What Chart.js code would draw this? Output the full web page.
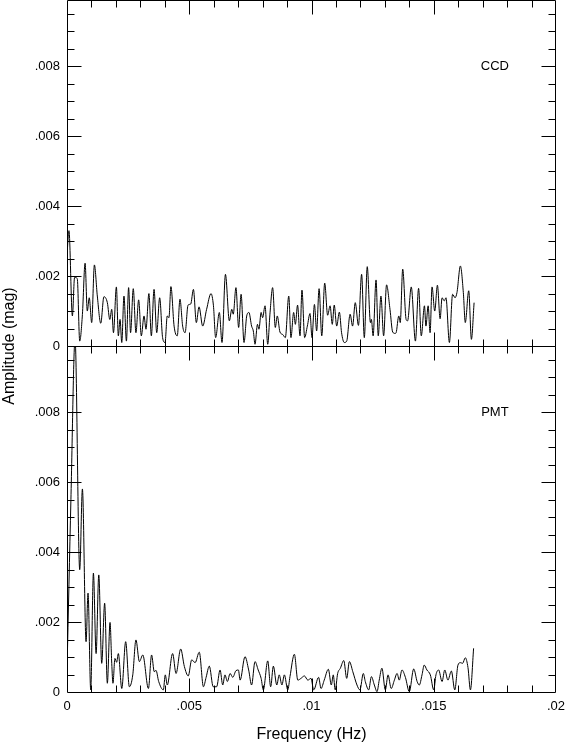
<!DOCTYPE html>
<html>
<head>
<meta charset="utf-8">
<script src="https://cdn.jsdelivr.net/npm/chart.js@4.4.1/dist/chart.umd.min.js"></script>
<style>
  html, body { margin: 0; padding: 0; background: #fff; }
  canvas { display: block; }
</style>
</head>
<body>
<canvas id="spectrum" width="565" height="745"></canvas>
<script>
// frequency in mHz, amplitude in mmag
const ccdFreq = [0, 0.08, 0.22, 0.31, 0.42, 0.52, 0.63, 0.74, 0.83, 0.91,
  1.01, 1.12, 1.24, 1.38, 1.51, 1.65, 1.75, 1.83, 1.90, 2.02,
  2.10, 2.17, 2.24, 2.33, 2.43, 2.52, 2.60, 2.71, 2.82, 2.93,
  3.04, 3.15, 3.23, 3.35, 3.45, 3.56, 3.67, 3.79, 3.91, 4.01,
  4.10, 4.17, 4.25, 4.38, 4.51, 4.62, 4.73, 4.83, 4.95, 5.06,
  5.17, 5.29, 5.40, 5.55, 5.71, 5.89, 5.99, 6.08, 6.23, 6.34,
  6.48, 6.64, 6.74, 6.80, 6.91, 7.02, 7.12, 7.24, 7.35, 7.44,
  7.55, 7.62, 7.69, 7.79, 7.85, 7.94, 8.00, 8.10, 8.21, 8.30,
  8.41, 8.52, 8.60, 8.71, 8.82, 8.93, 9.07, 9.16, 9.27, 9.34,
  9.43, 9.53, 9.61, 9.72, 9.83, 9.94, 10.02, 10.12, 10.21, 10.31,
  10.42, 10.54, 10.66, 10.76, 10.85, 10.93, 11.03, 11.14, 11.23, 11.34,
  11.44, 11.58, 11.68, 11.79, 11.92, 12.05, 12.16, 12.28, 12.41, 12.45,
  12.52, 12.64, 12.73, 12.84, 12.95, 13.07, 13.21, 13.32, 13.42, 13.46,
  13.57, 13.63, 13.73, 13.87, 13.93, 14.08, 14.25, 14.38, 14.49, 14.62,
  14.68, 14.77, 14.85, 14.93, 15.04, 15.15, 15.26, 15.34, 15.43, 15.50,
  15.64, 15.77, 15.87, 15.95, 16.09, 16.21, 16.29, 16.43, 16.54, 16.65];
const ccdAmp = [2.6, 3.30, 0.86, 1.96, 1.93, 0.14, 0.90, 2.37, 1.00, 1.38,
  0.67, 2.32, 1.43, 0.65, 1.41, 1.24, 0.76, 1.05, 0.38, 1.69,
  0.29, 0.76, 0.10, 1.43, 0.14, 1.67, 0.38, 1.64, 0.38, 1.32,
  0.29, 0.86, 0.48, 1.50, 0.29, 1.62, 0.38, 1.38, 0.24, 0.10,
  0.86, 0.81, 1.70, 0.57, 0.29, 1.34, 0.57, 0.38, 1.17, 1.20,
  1.62, 0.67, 1.12, 0.57, 1.05, 1.50, 1.15, 0.24, 0.96, 0.10,
  2.05, 0.72, 1.05, 0.91, 1.67, 0.53, 1.48, 0.10, 0.86, 0.96,
  0.57, 0.43, 0.05, 0.62, 0.48, 0.96, 0.81, 1.15, 0.05, 0.91,
  1.67, 0.53, 0.86, 0.40, 0.33, 0.24, 1.43, 0.24, 0.96, 0.62,
  1.17, 0.29, 1.60, 0.24, 0.57, 0.93, 0.24, 1.19, 0.43, 1.64,
  0.29, 1.80, 0.88, 1.15, 0.62, 1.17, 0.57, 0.97, 0.38, 0.10,
  0.14, 0.91, 0.57, 1.24, 0.59, 2.05, 0.24, 2.27, 0.67, 0.76,
  0.29, 1.89, 0.29, 1.43, 0.29, 1.75, 1.05, 0.40, 0.36, 0.38,
  0.86, 0.67, 2.20, 0.76, 0.72, 1.69, 0.14, 1.65, 0.29, 1.15,
  0.57, 1.15, 0.38, 1.69, 1.00, 1.74, 0.78, 1.38, 1.29, 1.38,
  0.10, 1.48, 1.38, 1.53, 2.29, 1.53, 0.67, 1.58, 0.19, 1.24];

const pmtFreq = [0, 0.16, 0.33, 0.52, 0.63, 0.78, 0.86, 0.97, 1.08, 1.19,
  1.30, 1.42, 1.54, 1.65, 1.76, 1.83, 1.88, 1.96, 2.03, 2.10,
  2.24, 2.40, 2.55, 2.69, 2.82, 2.96, 3.10, 3.33, 3.46, 3.57,
  3.64, 3.75, 3.94, 4.02, 4.10, 4.32, 4.46, 4.65, 4.80, 4.96,
  5.10, 5.24, 5.41, 5.58, 5.69, 5.82, 5.98, 6.12, 6.26, 6.37,
  6.46, 6.56, 6.67, 6.78, 6.91, 7.01, 7.08, 7.28, 7.43, 7.55,
  7.69, 7.82, 7.94, 8.03, 8.21, 8.33, 8.44, 8.58, 8.68, 8.79,
  8.89, 9.03, 9.12, 9.30, 9.44, 9.57, 9.71, 9.85, 9.98, 10.09,
  10.29, 10.39, 10.52, 10.69, 10.81, 10.89, 10.97, 11.07, 11.18, 11.32,
  11.44, 11.55, 11.69, 11.86, 11.98, 12.12, 12.20, 12.34, 12.45, 12.57,
  12.68, 12.77, 12.88, 13.02, 13.13, 13.26, 13.39, 13.50, 13.59, 13.70,
  13.84, 14.00, 14.18, 14.32, 14.41, 14.52, 14.61, 14.72, 14.86, 15.00,
  15.09, 15.20, 15.34, 15.45, 15.58, 15.72, 15.86, 15.99, 16.09, 16.18,
  16.29, 16.40, 16.50, 16.63];
const pmtAmp = [0.6, 5.5, 10.1, 3.5, 5.81, 1.44, 2.83, 0.06, 3.4, 1.1,
  3.35, 0.82, 2.54, 0.25, 1.99, 0.82, 0.25, 0.96, 0.85, 1.1,
  0.1, 1.44, 0.15, 0.49, 1.49, 0.87, 1.06, 0.1, 1.06, 0.58,
  0.62, 0.3, 0.06, 0.49, 0.2, 1.1, 0.53, 1.23, 0.73, 0.46,
  0.92, 0.84, 1.14, 0.15, 0.42, 0.74, 0.15, 0.15, 0.63, 0.2,
  0.49, 0.3, 0.53, 0.42, 0.61, 0.63, 0.34, 1.01, 0.63, 0.2,
  0.87, 0.63, 0.39, 0.06, 0.89, 0.15, 0.74, 0.2, 0.49, 0.2,
  0.49, 0.06, 0.44, 1.08, 0.34, 0.39, 0.46, 0.34, 0.39, 0.06,
  0.42, 0.1, 0.34, 0.65, 0.2, 0.49, 0.06, 0.53, 0.68, 0.9,
  0.39, 0.87, 0.58, 0.2, 0.06, 0.53, 0.3, 0.06, 0.44, 0.2,
  0.01, 0.34, 0.68, 0.06, 0.49, 0.1, 0.34, 0.53, 0.34, 0.63,
  0.42, 0.01, 0.66, 0.3, 0.2, 0.49, 0.77, 0.63, 0.49, 0.06,
  0.49, 0.63, 0.3, 0.63, 0.34, 0.6, 0.06, 0.77, 0.84, 0.82,
  0.98, 0.7, 0.06, 1.25];

const xTicks = [0, 0.005, 0.01, 0.015, 0.02];
const yTicks = [0, 0.002, 0.004, 0.006, 0.008];
const panelNames = ['CCD', 'PMT'];
const xTitle = 'Frequency (Hz)';
const yTitle = 'Amplitude (mag)';

const FONT = '"Liberation Sans", Arial, Helvetica, sans-serif';
const Y_MAX = 0.0099;

function toPoints(freq, amp) {
  return freq.map((f, i) => ({ x: f / 1000, y: amp[i] / 1000 }));
}

function fmtTick(v) {
  if (Math.abs(v) < 1e-12) return '0';
  return String(+v.toFixed(4)).replace(/^0\./, '.');
}

function yAxis() {
  return {
    type: 'linear',
    position: 'left',
    stack: 'panels',
    stackWeight: 1,
    min: 0,
    max: Y_MAX,
    grid: { display: false, drawTicks: false },
    border: { display: false },
    ticks: {
      color: '#000',
      font: { family: FONT, size: 13 },
      padding: 7,
      autoSkip: false,
      callback: (v) => fmtTick(v)
    },
    afterBuildTicks: (s) => { s.ticks = yTicks.map(v => ({ value: v })); },
    afterFit: (s) => { s.width = 67; s.paddingTop = 0; s.paddingBottom = 0; }
  };
}

// frame, inward ticks on all sides, panel names and the vertical title
const framePlugin = {
  id: 'framePlugin',
  afterDraw(chart) {
    const ctx = chart.ctx;
    const xs = chart.scales.x;
    const left = xs.left + 0.5;
    const right = xs.right - 0.5;
    ctx.save();
    ctx.strokeStyle = '#000';
    ctx.lineWidth = 1;
    ctx.beginPath();
    const seg = (x1, y1, x2, y2) => { ctx.moveTo(x1, y1); ctx.lineTo(x2, y2); };
    ['yTop', 'yBot'].forEach((id, p) => {
      const ys = chart.scales[id];
      const top = Math.round(ys.top) + 0.5;
      const bottom = Math.round(ys.bottom) + 0.5;
      seg(left, top, right, top);
      seg(left, bottom, right, bottom);
      seg(left, top, left, bottom);
      seg(right, top, right, bottom);
      for (let k = 1; k * 0.0005 < Y_MAX; k++) {
        const py = Math.round(ys.getPixelForValue(k * 0.0005)) + 0.5;
        const len = k % 4 === 0 ? 14 : 7;
        seg(left, py, left + len, py);
        seg(right, py, right - len, py);
      }
      for (let k = 1; k < 20; k++) {
        const px = Math.round(xs.getPixelForValue(k * 0.001)) + 0.5;
        const len = k % 5 === 0 ? 14 : 7;
        seg(px, bottom, px, bottom - len);
        seg(px, top, px, top + len);
      }
      ctx.fillStyle = '#000';
      ctx.font = '13px ' + FONT;
      ctx.textAlign = 'center';
      ctx.textBaseline = 'middle';
      ctx.fillText(panelNames[p], xs.getPixelForValue(0.0175), ys.getPixelForValue(0.008));
    });
    ctx.stroke();

    ctx.translate(10, (chart.scales.yTop.top + chart.scales.yBot.bottom) / 2);
    ctx.rotate(-Math.PI / 2);
    ctx.font = '16px ' + FONT;
    ctx.textAlign = 'center';
    ctx.textBaseline = 'middle';
    ctx.fillText(yTitle, 0, 0);
    ctx.restore();
  }
};

new Chart(document.getElementById('spectrum'), {
  type: 'line',
  data: {
    datasets: [
      {
        label: panelNames[0],
        data: toPoints(ccdFreq, ccdAmp),
        yAxisID: 'yTop',
        borderColor: '#000',
        borderWidth: 1,
        pointRadius: 0,
        cubicInterpolationMode: 'monotone',
        fill: false
      },
      {
        label: panelNames[1],
        data: toPoints(pmtFreq, pmtAmp),
        yAxisID: 'yBot',
        borderColor: '#000',
        borderWidth: 1,
        pointRadius: 0,
        cubicInterpolationMode: 'monotone',
        fill: false
      }
    ]
  },
  options: {
    responsive: false,
    devicePixelRatio: 1,
    animation: false,
    layout: { padding: { left: 0, right: 9, top: 0, bottom: 0 } },
    plugins: { legend: { display: false }, tooltip: { enabled: false } },
    scales: {
      x: {
        type: 'linear',
        position: 'bottom',
        min: 0,
        max: 0.02,
        grid: { display: false, drawTicks: false },
        border: { display: false },
        ticks: {
          color: '#000',
          font: { family: FONT, size: 13 },
          padding: 7,
          maxRotation: 0,
          autoSkip: false,
          callback: (v) => fmtTick(v)
        },
        title: {
          display: true,
          text: xTitle,
          color: '#000',
          font: { family: FONT, size: 16 },
          padding: { top: 0, bottom: 1 }
        },
        afterBuildTicks: (s) => { s.ticks = xTicks.map(v => ({ value: v })); },
        afterFit: (s) => { s.height = 53; s.paddingLeft = 0; s.paddingRight = 0; }
      },
      // stacked left axes are laid out in reverse order: the last one ends up on top
      yBot: yAxis(),
      yTop: yAxis()
    }
  },
  plugins: [framePlugin]
});
</script>
</body>
</html>
